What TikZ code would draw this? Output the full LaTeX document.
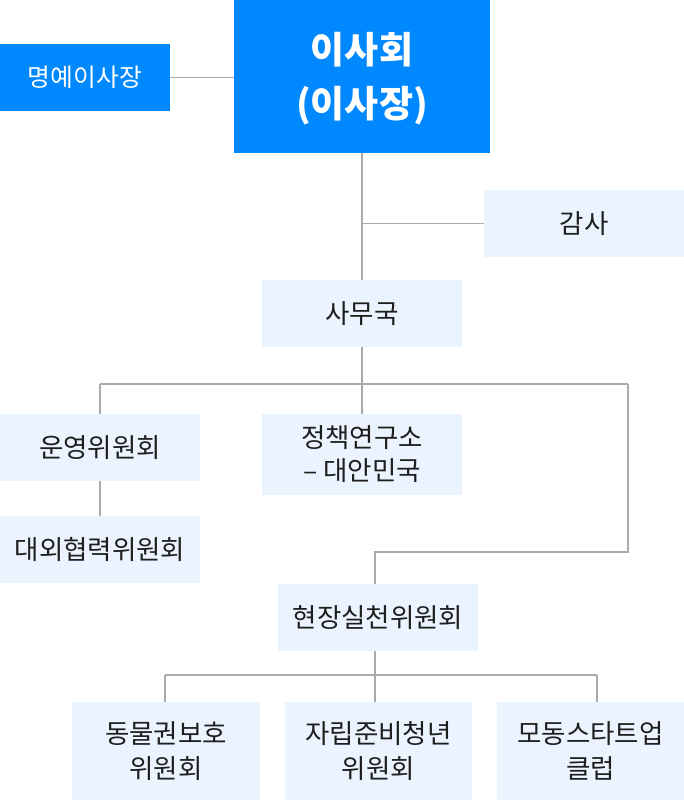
\documentclass[tikz,border=0pt]{standalone}
\usepackage{fontspec}
\setmainfont{Noto Sans CJK KR}
\definecolor{mainblue}{HTML}{0088FF}
\definecolor{lightbox}{HTML}{EBF4FE}
\definecolor{linegray}{HTML}{AAAAAA}
\definecolor{txt}{HTML}{1E1E1E}
\tikzset{
  lbox/.style={fill=lightbox, draw=none, inner sep=0pt, align=center, text=txt,
    font=\fontsize{26.5}{33}\selectfont},
  bbox/.style={fill=mainblue, draw=none, inner sep=0pt, align=center, text=white},
  conn/.style={draw=linegray, line width=1.3pt}
}
\begin{document}
\begin{tikzpicture}[x=1pt,y=-1pt]
\useasboundingbox (0,0) rectangle (684,800);
% boxes
\node[bbox, minimum width=256pt, minimum height=153pt] (bod) at (362,76.5) {};
\node[text=white, align=center, inner sep=0pt, font=\fontsize{37}{54}\selectfont\bfseries] (bodtext) at (362,79) {이사회\\(이사장)};
\node[bbox, minimum width=170pt, minimum height=67pt, font=\fontsize{24.8}{30}\selectfont] (myr) at (85,77.5) {명예이사장};
\node[lbox, minimum width=200pt, minimum height=67pt] (audit) at (584,223.5) {감사};
\node[lbox, minimum width=200pt, minimum height=67pt] (sec) at (362,313.5) {사무국};
\node[lbox, minimum width=200pt, minimum height=67pt] (ops) at (100,447.5) {운영위원회};
\node[lbox, minimum width=200pt, minimum height=81pt] (pol) at (362,454.5) {정책연구소\\– 대안민국};
\node[lbox, minimum width=200pt, minimum height=67pt] (ext) at (100,549.5) {대외협력위원회};
\node[lbox, minimum width=200pt, minimum height=67pt] (field) at (378,617.5) {현장실천위원회};
\node[lbox, minimum width=188pt, minimum height=98pt, font=\fontsize{26.5}{35}\selectfont] (b1) at (166,751) {동물권보호\\위원회};
\node[lbox, minimum width=187pt, minimum height=98pt, font=\fontsize{26.5}{35}\selectfont] (b2) at (378.5,751) {자립준비청년\\위원회};
\node[lbox, minimum width=187pt, minimum height=98pt, font=\fontsize{26.5}{35}\selectfont] (b3) at (590.5,751) {모동스타트업\\클럽};
% coordinates
\coordinate (busA) at (362,384);
\coordinate (busAL) at (100,384);
\coordinate (busAR) at (628,384);
\coordinate (bendR) at (628,552);
\coordinate (bendL) at (375,552);
\coordinate (fieldTop) at (375,584);
\coordinate (fieldBot) at (375,651);
\coordinate (busB) at (375,675);
\coordinate (busBL) at (165,675);
\coordinate (busBR) at (597,675);
% connectors
\draw[conn] (myr.east) -- (bod.west |- myr.east);
\draw[conn] (bod.south) -- (sec.north);
\draw[conn] (audit.west) -- (audit.west -| bod.south);
\draw[conn] (sec.south) -- (busA);
\draw[conn] (busAL) -- (busAR);
\draw[conn] (busAL) -- (ops.north);
\draw[conn] (busA) -- (pol.north);
\draw[conn] (busAR) -- (bendR) -- (bendL) -- (fieldTop);
\draw[conn] (ops.south) -- (ext.north);
\draw[conn] (fieldBot) -- (busB);
\draw[conn] (busBL) -- (busBR);
\draw[conn] (busBL) -- (busBL |- b1.north);
\draw[conn] (busB) -- (busB |- b2.north);
\draw[conn] (busBR) -- (busBR |- b3.north);
\end{tikzpicture}
\end{document}
